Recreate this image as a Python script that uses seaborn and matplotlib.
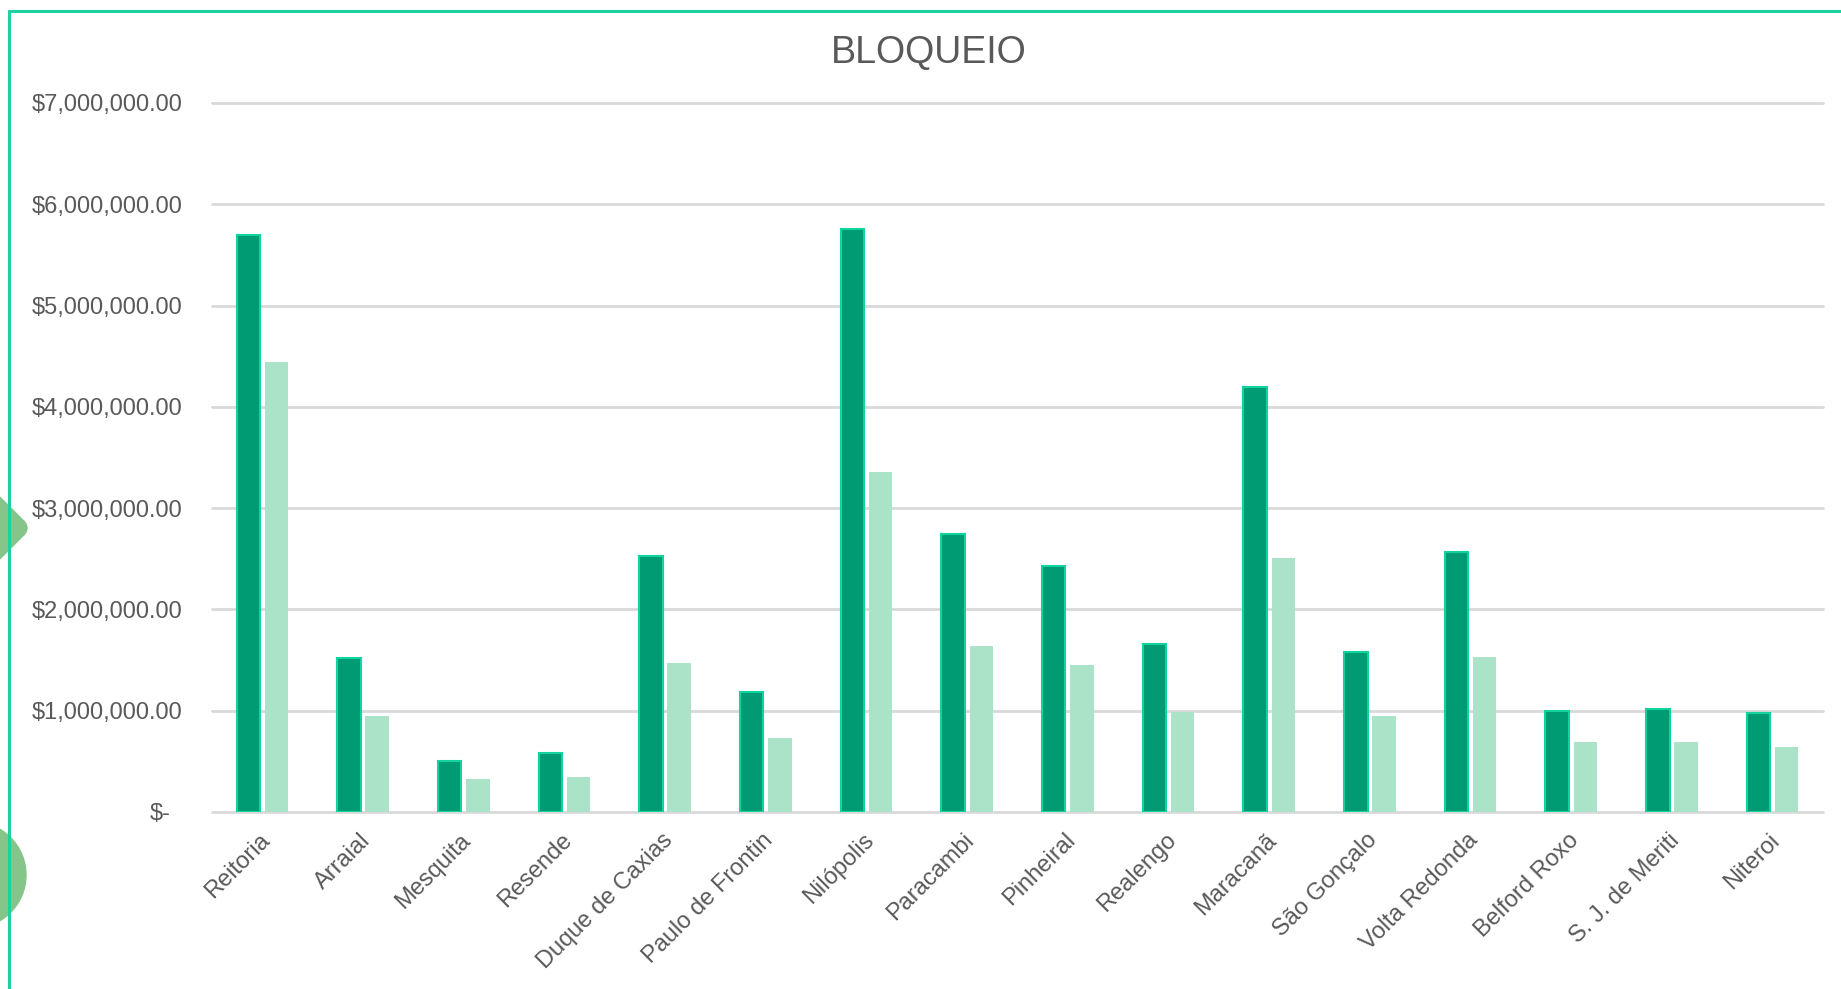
import numpy as np
import pandas as pd
import matplotlib
matplotlib.use("Agg")
import matplotlib.pyplot as plt
import seaborn as sns
from matplotlib.ticker import FuncFormatter
from matplotlib.patches import Ellipse, RegularPolygon
from matplotlib.lines import Line2D
from matplotlib.transforms import IdentityTransform, ScaledTranslation

# dados (R$)
campi = ["Reitoria", "Arraial", "Mesquita", "Resende", "Duque de Caxias",
         "Paulo de Frontin", "Nilópolis", "Paracambi", "Pinheiral", "Realengo",
         "Maracanã", "São Gonçalo", "Volta Redonda", "Belford Roxo",
         "S. J. de Meriti", "Niteroi"]
serie_1 = [5700000, 1520000, 500000, 580000, 2530000, 1180000, 5760000, 2740000,
           2430000, 1660000, 4200000, 1580000, 2570000, 1000000, 1020000, 980000]
serie_2 = [4440000, 950000, 330000, 350000, 1470000, 730000, 3360000, 1640000,
           1450000, 990000, 2510000, 950000, 1530000, 690000, 690000, 640000]
series = ["Série 1", "Série 2"]
yticks = [0, 1000000, 2000000, 3000000, 4000000, 5000000, 6000000, 7000000]

df = pd.DataFrame({
    "campus": campi * 2,
    "valor": serie_1 + serie_2,
    "serie": [series[0]] * len(campi) + [series[1]] * len(campi),
})

sns.set_theme(style="white")
plt.rcParams["font.family"] = ["Liberation Sans", "DejaVu Sans"]

W, H = 1841, 989
fig = plt.figure(figsize=(W / 100, H / 100), dpi=100)
ax = fig.add_axes([212 / W, 1 - 812 / H, (1823 - 212) / W, (812 - 103) / H])

dark = "#009B73"
light = "#ABE3C9"
sns.barplot(data=df, x="campus", y="valor", hue="serie", order=campi,
            hue_order=series, palette=[dark, light], width=0.56, gap=0.17,
            legend=False, ax=ax, saturation=1)

n = len(campi)
for i, p in enumerate(ax.patches):
    if i < n:
        p.set_edgecolor("#10D39E")
        p.set_linewidth(1.5)
    else:
        p.set_edgecolor("none")

ax.set_xlim(-0.5, n - 0.5)
ax.set_ylim(0, 7000000)
ax.set_yticks(yticks)

def fmt(v, pos):
    if v == 0:
        return "$-"
    return "${:,.2f}".format(v)

ax.yaxis.set_major_formatter(FuncFormatter(fmt))
ax.set_xlabel("")
ax.set_ylabel("")
for s in ax.spines.values():
    s.set_visible(False)
ax.yaxis.grid(True, color="#D9D9D9", linewidth=2)
for gl in ax.get_ygridlines():
    gl.set_clip_on(False)
ax.set_axisbelow(True)

ax.tick_params(axis="y", length=0, pad=21, labelsize=17, labelcolor="#595959")
ax.tick_params(axis="x", length=0, pad=18, labelsize=17, labelcolor="#595959")
plt.setp(ax.get_xticklabels(), rotation=45, ha="right", va="center",
         rotation_mode="anchor")

# "$-" fica um pouco mais a esquerda, como no formato contabil
fig.canvas.draw()
lbl0 = ax.get_yticklabels()[0]
lbl0.set_transform(lbl0.get_transform() + ScaledTranslation(-12 / 100, 0, fig.dpi_scale_trans))
for lb in ax.get_xticklabels():
    lb.set_transform(lb.get_transform() + ScaledTranslation(4 / 100, 0, fig.dpi_scale_trans))

fig.text(929 / W, 1 - 53 / H, "BLOQUEIO", ha="center", va="center",
         fontsize=27, color="#595959")

# enfeites verdes da borda esquerda do slide
blob_color = "#86C589"
fig.add_artist(RegularPolygon((-16, H - 528), 4, radius=34, color=blob_color,
                              linewidth=14, joinstyle="round",
                              transform=IdentityTransform(), zorder=1))
fig.add_artist(Ellipse((-27, H - 875), 106, 106, color=blob_color,
                       transform=IdentityTransform(), zorder=1))

# moldura
border = "#1CD2A0"
fig.add_artist(Line2D([9, W], [H - 11, H - 11], color=border, linewidth=2.2,
                      transform=IdentityTransform(), zorder=3))
fig.add_artist(Line2D([9, 9], [H - 11, 0], color=border, linewidth=2.2,
                      transform=IdentityTransform(), zorder=3))

fig.savefig("out.png", dpi=100)
